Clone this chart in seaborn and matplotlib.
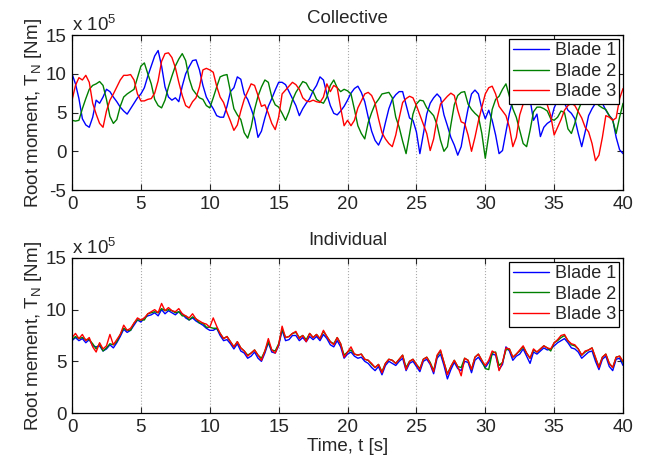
import numpy as np
import pandas as pd
import matplotlib
matplotlib.use("Agg")
import matplotlib.pyplot as plt
import seaborn as sns

# Time (s), sampled every 0.25 s from 0 to 40
time_s = [i * 0.25 for i in range(161)]

# Collective pitch: root moment (x 1e5 Nm)
coll_blade1 = [10.0, 8.7, 6.8, 4.2, 3.4, 3.1, 4.4, 6.6, 6.2, 7.0, 8.0, 7.7, 7.0, 6.4, 5.7, 5.2, 4.8, 5.5, 6.2, 6.9,
               7.4, 8.2, 9.7, 11.0, 12.3, 13.0, 11.0, 8.3, 7.0, 6.6, 6.9, 6.4, 8.4, 10.0, 10.9, 11.7, 11.8, 10.5, 8.5, 7.0,
               6.2,
               5.5, 4.6, 4.4, 4.4, 5.8, 7.7, 8.2, 9.6, 9.3, 7.4, 6.7, 5.5, 4.2, 1.8, 2.6, 4.3, 5.8, 6.8, 7.9, 8.9,
               8.9, 8.6, 7.7, 6.8, 5.9, 4.6, 5.5, 6.2, 6.8, 7.8, 8.5, 9.6, 9.2, 7.4, 5.9, 4.9, 4.7, 5.2, 5.8, 6.6,
               7.5, 8.1, 8.4, 7.6, 6.4, 4.4, 2.6, 1.4, 0.8, 1.8, 3.7, 5.5, 6.7, 7.3, 7.7, 7.7, 6.0, 4.3, 4.0, 2.5,
               -0.3, 2.2, 4.8, 6.2, 6.9, 7.4, 6.9, 4.7, 3.3, 1.8, 0.8, -0.5, 0.6, 3.2, 5.5, 7.4, 7.9, 7.4, 5.5, 4.2,
               5.3, 4.0, 2.1, -0.3, 0.1, 2.5, 4.9, 6.6, 7.7, 8.8, 8.4, 7.9, 6.7, 4.0, 4.8, 1.9, 3.1, 3.6, 3.9, 5.6,
               6.6, 7.0, 6.2, 5.3, 4.9, 4.2, 2.3, 0.6, 2.5, 4.6, 5.5, 6.2, 6.6, 6.2, 5.3, 4.6, 4.1, 1.8, 0.2, -0.3]
coll_blade2 = [4.0, 3.9, 4.0, 5.5, 6.8, 8.0, 8.5, 8.7, 9.0, 8.5, 6.7, 4.5, 3.6, 4.1, 5.8, 7.0, 7.4, 7.7, 8.0, 9.5,
               11.0, 11.4, 10.0, 8.7, 6.7, 5.9, 5.6, 6.6, 8.3, 9.7, 11.0, 11.9, 12.6, 11.7, 9.4, 8.0, 7.4, 6.9, 6.7, 5.9,
               5.6,
               6.9, 8.3, 9.6, 9.8, 9.9, 7.7, 5.5, 4.7, 4.1, 2.4, 1.7, 3.1, 5.4, 7.1, 8.3, 9.2, 8.9, 7.0, 6.0, 5.7,
               4.9, 4.0, 5.1, 6.6, 7.6, 8.3, 9.0, 8.8, 8.0, 7.7, 6.7, 6.4, 6.2, 7.0, 8.5, 9.2, 8.2, 7.7, 8.0, 7.8,
               7.4, 5.4, 3.3, 2.3, 1.6, 3.7, 5.0, 6.1, 6.7, 7.4, 7.5, 7.6, 6.9, 4.4, 3.1, 1.3, -0.3, 2.2, 4.8, 6.1,
               6.6, 6.5, 5.6, 5.1, 4.6, 3.4, 1.4, 0.0, 0.6, 3.4, 6.0, 7.2, 7.6, 7.7, 6.1, 5.4, 4.9, 4.5, 2.3, -0.9,
               2.1, 5.4, 6.7, 7.1, 8.0, 8.7, 7.1, 5.5, 4.4, 2.7, 1.0, 0.6, 2.7, 5.1, 5.7, 5.7, 5.5, 5.2, 4.2, 4.0,
               4.4, 5.2, 5.0, 2.9, 2.3, 3.6, 5.3, 6.4, 7.0, 7.2, 6.8, 6.4, 5.9, 5.6, 5.4, 4.6, 4.0, 2.3, 4.4, 6.2]
coll_blade3 = [6.6, 8.5, 9.5, 9.2, 9.8, 8.9, 6.2, 4.8, 3.6, 3.1, 5.2, 6.6, 7.4, 8.3, 9.2, 9.8, 9.8, 9.9, 9.2, 7.4,
               6.5, 6.5, 6.7, 6.8, 7.5, 9.1, 11.6, 12.6, 12.7, 12.1, 10.8, 8.9, 7.2, 5.9, 5.6, 6.4, 6.9, 8.3, 10.5, 10.7,
               10.5,
               10.2, 8.4, 7.0, 6.3, 5.0, 3.9, 2.7, 3.4, 5.2, 6.7, 7.7, 8.7, 8.5, 7.2, 5.8, 6.0, 4.9, 3.6, 2.8, 4.4,
               7.4, 7.9, 8.4, 8.9, 8.6, 8.0, 6.9, 6.5, 6.4, 6.6, 6.4, 6.3, 7.0, 8.7, 7.7, 8.5, 8.2, 5.6, 3.3, 4.0,
               3.3, 4.0, 5.6, 6.5, 7.4, 7.6, 7.2, 6.2, 4.2, 2.4, 1.6, 1.0, 0.6, 2.1, 4.3, 6.3, 6.8, 7.1, 6.9, 5.9,
               4.7, 3.5, 2.3, 0.1, 1.6, 4.2, 6.1, 6.6, 7.1, 7.5, 7.2, 5.3, 3.8, 3.6, 2.1, 0.0, 1.8, 3.9, 5.7, 7.4,
               8.2, 8.4, 7.4, 5.8, 5.2, 4.6, 3.1, 0.6, 1.8, 4.7, 6.1, 7.4, 8.3, 8.5, 8.1, 7.2, 6.6, 6.0, 4.6, 2.1,
               3.1, 4.1, 5.3, 5.9, 6.2, 5.9, 5.1, 4.3, 3.1, 2.5, 1.0, -1.2, -0.5, 1.8, 4.6, 4.4, 4.0, 4.3, 6.8, 8.1]

# Individual pitch: root moment (x 1e5 Nm)
ind_blade1 = [7.0, 7.3, 7.0, 7.2, 6.8, 7.1, 6.5, 6.4, 6.5, 6.0, 6.2, 6.6, 6.3, 6.8, 7.4, 8.1, 7.8, 8.0, 8.5, 9.0,
              8.8, 9.2, 9.4, 9.5, 9.7, 9.4, 10.0, 9.6, 9.9, 9.7, 9.5, 9.8, 9.6, 9.2, 9.0, 9.2, 8.9, 8.7, 8.5, 8.2,
              8.0,
              8.0, 8.2, 7.5, 7.0, 7.1, 6.7, 6.2, 6.7, 6.0, 5.8, 5.3, 5.5, 5.9, 5.3, 5.0, 5.8, 6.8, 5.9, 5.8, 6.5,
              8.0, 7.0, 7.1, 7.5, 7.5, 7.0, 7.3, 6.9, 7.4, 7.1, 7.4, 7.0, 7.6, 7.2, 6.6, 6.4, 7.0, 6.4, 5.3, 5.7,
              5.9, 5.5, 5.3, 5.4, 5.0, 4.8, 4.4, 4.1, 4.5, 3.7, 4.6, 5.0, 4.8, 4.6, 5.0, 5.3, 4.1, 4.8, 5.0, 4.5,
              4.0, 5.0, 5.2, 4.7, 3.8, 5.3, 5.7, 4.6, 3.3, 4.2, 4.9, 4.3, 4.1, 5.0, 4.9, 3.9, 5.1, 5.4, 4.9, 4.4,
              4.9, 5.7, 5.6, 4.2, 4.7, 6.4, 6.0, 5.1, 5.5, 5.7, 6.2, 5.5, 4.8, 5.9, 5.7, 6.0, 6.3, 6.1, 6.2, 6.5,
              6.8, 7.0, 7.2, 6.8, 6.3, 6.2, 5.9, 5.3, 5.6, 5.9, 6.0, 5.0, 4.2, 5.2, 5.5, 4.5, 4.1, 5.2, 5.3, 4.6]
ind_blade2 = [7.1, 7.4, 7.2, 7.3, 7.1, 7.1, 6.7, 6.2, 6.7, 6.0, 6.3, 6.7, 6.6, 6.9, 7.6, 8.2, 8.0, 8.0, 8.7, 9.0,
              9.0, 9.0, 9.6, 9.7, 9.8, 9.7, 10.1, 9.9, 10.0, 9.9, 9.7, 9.8, 9.4, 9.4, 9.0, 9.3, 9.1, 8.7, 8.7, 8.3,
              8.3,
              8.2, 8.2, 7.7, 7.2, 7.4, 6.9, 6.4, 6.9, 6.3, 6.0, 5.6, 5.8, 6.1, 5.6, 5.3, 6.0, 6.9, 6.1, 6.0, 6.7,
              8.1, 7.3, 7.4, 7.7, 7.8, 7.3, 7.5, 7.1, 7.7, 7.3, 7.6, 7.2, 7.9, 7.4, 6.9, 6.7, 7.3, 6.7, 5.6, 5.9,
              6.1, 5.7, 5.6, 5.7, 5.2, 5.1, 4.7, 4.4, 4.7, 4.0, 4.8, 5.2, 5.1, 4.8, 5.2, 5.6, 4.4, 5.0, 5.2, 4.7,
              4.3, 5.2, 5.4, 4.9, 4.1, 5.5, 6.0, 4.9, 3.8, 4.5, 5.1, 4.5, 4.4, 5.3, 5.1, 4.2, 5.4, 5.7, 5.1, 4.3,
              4.2, 5.8, 5.9, 4.6, 4.9, 6.1, 6.2, 5.4, 5.7, 6.0, 6.4, 5.8, 5.3, 6.1, 5.9, 6.2, 6.5, 6.3, 6.0, 6.8,
              7.0, 7.3, 7.5, 7.0, 6.6, 6.5, 6.2, 5.6, 5.9, 6.1, 6.3, 5.3, 4.5, 5.4, 5.7, 4.8, 4.4, 5.4, 5.5, 4.9]
ind_blade3 = [7.3, 7.7, 7.2, 7.6, 7.0, 7.3, 6.4, 5.9, 6.8, 6.2, 6.5, 7.6, 6.6, 7.1, 7.6, 8.5, 8.0, 8.2, 8.7, 9.2,
              9.0, 9.2, 9.6, 9.8, 10.0, 9.7, 10.6, 9.9, 10.2, 9.9, 9.8, 10.1, 9.6, 9.4, 9.2, 9.6, 9.1, 8.9, 8.7, 8.6,
              8.3,
              9.2, 8.4, 7.7, 7.2, 7.4, 6.9, 6.4, 6.9, 6.3, 6.0, 5.5, 5.8, 6.1, 5.6, 5.1, 6.0, 7.2, 6.1, 5.8, 6.6,
              8.4, 7.3, 7.4, 7.7, 7.9, 7.2, 7.5, 6.9, 7.7, 7.3, 7.6, 7.2, 8.0, 7.4, 6.9, 6.6, 7.3, 6.7, 5.4, 5.9,
              6.4, 5.7, 5.6, 5.7, 5.2, 5.1, 4.8, 4.4, 4.7, 3.9, 4.8, 5.2, 5.1, 4.8, 5.2, 5.6, 4.2, 5.0, 5.2, 4.7,
              4.2, 5.2, 5.4, 4.8, 4.0, 5.6, 6.1, 4.9, 3.7, 4.5, 5.1, 4.5, 3.6, 5.3, 5.1, 4.2, 5.4, 5.7, 5.1, 4.6,
              5.1, 6.0, 5.8, 4.1, 4.9, 6.3, 6.2, 5.4, 5.7, 6.1, 6.5, 5.8, 5.3, 6.2, 5.9, 6.2, 6.5, 6.3, 6.2, 6.8,
              7.1, 7.5, 7.6, 7.0, 6.7, 6.6, 6.2, 5.6, 6.0, 6.1, 6.3, 5.4, 4.4, 5.4, 5.7, 4.8, 4.4, 5.4, 5.5, 5.0]

blade_names = ["Blade 1", "Blade 2", "Blade 3"]
blade_colors = ["#0000ff", "#008000", "#ff0000"]
x_ticks = [0, 5, 10, 15, 20, 25, 30, 35, 40]


def long_frame(series):
    rows = []
    for name, vals in zip(blade_names, series):
        for t, v in zip(time_s, vals):
            rows.append({"Time": t, "Moment": v, "Blade": name})
    return pd.DataFrame(rows)


df_coll = long_frame([coll_blade1, coll_blade2, coll_blade3])
df_ind = long_frame([ind_blade1, ind_blade2, ind_blade3])

sns.set_style("ticks")
plt.rcParams["font.family"] = ["Liberation Sans", "DejaVu Sans"]
plt.rcParams["mathtext.fontset"] = "custom"
plt.rcParams["mathtext.rm"] = "Liberation Sans"
plt.rcParams["mathtext.it"] = "Liberation Sans"
plt.rcParams["axes.unicode_minus"] = False

FS = 13.5

fig = plt.figure(figsize=(6.49, 4.67), dpi=100)
ax1 = fig.add_axes([0.111, 0.593, 0.849, 0.332])
ax2 = fig.add_axes([0.111, 0.1156, 0.849, 0.332])

palette = dict(zip(blade_names, blade_colors))


def style_axis(ax, ylim, yticks, ylabel, title):
    ax.set_xlim(0, 40)
    ax.set_ylim(*ylim)
    ax.set_xticks(x_ticks)
    ax.set_yticks(yticks)
    ax.tick_params(direction="in", top=True, right=True, labelsize=FS, length=4, width=0.8)
    ax.tick_params(axis="x", pad=4.5)
    ax.tick_params(axis="y", pad=4)
    ax.xaxis.grid(True, linestyle=":", color="#aaaaaa", linewidth=0.8)
    ax.yaxis.grid(False)
    for sp in ax.spines.values():
        sp.set_visible(True)
        sp.set_linewidth(0.9)
        sp.set_color("black")
    ax.set_ylabel(ylabel, fontsize=FS, labelpad=1)
    ax.set_title(title, fontsize=FS, pad=9)
    ax.text(0.0, 1.0, r"x 10$^{5}$", transform=ax.transAxes, fontsize=FS,
            ha="left", va="bottom")
    leg = ax.legend(loc="upper right", fontsize=13, frameon=True, fancybox=False,
                    edgecolor="black", framealpha=1, borderaxespad=0.2,
                    handlelength=2.0, handletextpad=0.3, labelspacing=0.2,
                    borderpad=0.2)
    leg.get_frame().set_linewidth(0.9)


sns.lineplot(data=df_coll, x="Time", y="Moment", hue="Blade", palette=palette,
             linewidth=1.0, ax=ax1, estimator=None, sort=False)
style_axis(ax1, (-5, 15), [-5, 0, 5, 10, 15], "Root moment, T$_N$ [Nm]", "Collective")
ax1.set_xlabel("")

sns.lineplot(data=df_ind, x="Time", y="Moment", hue="Blade", palette=palette,
             linewidth=1.0, ax=ax2, estimator=None, sort=False)
style_axis(ax2, (0, 15), [0, 5, 10, 15], "Root mement, T$_N$ [Nm]", "Individual")
ax2.set_xlabel("Time, t [s]", fontsize=FS, labelpad=1)

fig.savefig("out.png", dpi=100)
